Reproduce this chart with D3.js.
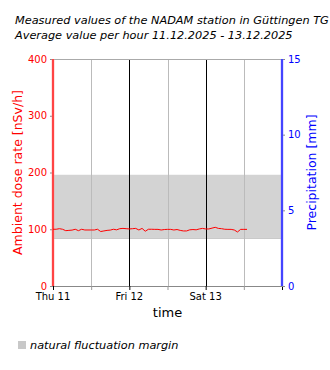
<!DOCTYPE html>
<html><head><meta charset="utf-8">
<script src="https://cdn.jsdelivr.net/npm/d3@7"></script>
<style>body{margin:0;background:#fff}svg{display:block;font-family:"DejaVu Sans",sans-serif}</style>
</head><body><div id="c"></div>
<script>
const titleLines = ["Measured values of the NADAM station in Güttingen TG", "Average value per hour 11.12.2025 - 13.12.2025"];
const startTime = new Date(2025, 11, 11, 0, 0);
const endTime = new Date(2025, 11, 14, 0, 0);
const doseValues = [100,100,101,100,97.5,98,98.5,100,97.5,100,98.7,98.7,98.7,98.7,100,96,97,98,98.5,100,99,101,101.5,101,100.5,101,101.5,98.7,101.5,96.5,100,100,99.8,99.8,98.7,99.5,99.8,99.8,98.7,99.5,98,97,97,99,99.5,99,100.5,101.5,100.5,100.5,102,103.4,101.5,101,100,99.8,99.8,98.7,95.2,99.8,99.8,99.8];
const bandLow = 85, bandHigh = 196;
const doseTicks = [0,100,200,300,400];
const precipTicks = [0,5,10,15];
const dayLabels = ["Thu 11","Fri 12","Sat 13"];
const yLabel = "Ambient dose rate [nSv/h]";
const y2Label = "Precipitation [mm]";
const xLabel = "time";
const legendLabel = "natural fluctuation margin";

const W=330,H=370, L=53, R=282, T=59, B=286;
const svg = d3.select("#c").append("svg").attr("width",W).attr("height",H);
const x = d3.scaleTime().domain([startTime,endTime]).range([L,R]);
const y = d3.scaleLinear().domain([0,400]).range([B,T]);
const y2 = d3.scaleLinear().domain([0,15]).range([B,T]);
const data = doseValues.map((v,i)=>({t:d3.timeHour.offset(startTime,i), v}));

svg.selectAll(".title").data(titleLines).join("text")
  .attr("x",15).attr("y",(d,i)=>24+i*15).attr("font-size",11.3).attr("font-style","italic").text(d=>d);

// band
svg.append("rect").attr("x",L).attr("width",R-L).attr("y",y(bandHigh)).attr("height",y(bandLow)-y(bandHigh)).attr("fill","#d3d3d3");
svg.append("line").attr("x1",L).attr("x2",R).attr("y1",y(bandLow)+0.5).attr("y2",y(bandLow)+0.5).attr("stroke","#b8b8b8");

// grid
const halfDays = d3.timeHour.every(12).range(startTime, d3.timeHour.offset(endTime,1));
svg.selectAll(".g").data(halfDays.filter(d=>+d>+startTime && +d<+endTime)).join("line")
  .attr("x1",d=>Math.round(x(d))+0.5).attr("x2",d=>Math.round(x(d))+0.5).attr("y1",T).attr("y2",B)
  .attr("stroke",d=>d.getHours()===0?"#000":"#bbb");
svg.append("line").attr("x1",L).attr("x2",R).attr("y1",T+0.5).attr("y2",T+0.5).attr("stroke","#aaa");

// x axis
const xa = svg.append("g").attr("transform",`translate(0,${B})`)
  .call(d3.axisBottom(x).tickValues(halfDays).tickSize(4).tickFormat(""));
xa.select(".domain").attr("stroke","#888");
xa.selectAll(".tick line").attr("stroke",d=>d.getHours()===0?"#000":"#999");
svg.selectAll(".dl").data(d3.timeDay.range(startTime,endTime)).join("text")
  .attr("x",d=>x(d)).attr("y",B+14).attr("text-anchor","middle").attr("font-size",10).text((d,i)=>dayLabels[i]);
svg.append("text").attr("x",(L+R)/2).attr("y",B+31).attr("text-anchor","middle").attr("font-size",13).text(xLabel);

// left axis
const ya = svg.append("g").attr("transform",`translate(${L},0)`)
  .call(d3.axisLeft(y).tickValues(doseTicks).tickSize(3));
ya.select(".domain").remove();
ya.selectAll(".tick line").attr("stroke","#888");
ya.selectAll("text").attr("fill","red").attr("font-size",10).attr("font-family","DejaVu Sans");
svg.append("line").attr("x1",L).attr("x2",L).attr("y1",T).attr("y2",B).attr("stroke","#f88").attr("stroke-width",2.5);
svg.append("line").attr("x1",L).attr("x2",L).attr("y1",T).attr("y2",B).attr("stroke","red").attr("stroke-width",1);
svg.append("text").attr("transform",`translate(22,${(T+B)/2}) rotate(-90)`).attr("text-anchor","middle")
  .attr("fill","red").attr("font-size",12.5).text(yLabel);

// right axis
const y2a = svg.append("g").attr("transform",`translate(${R},0)`)
  .call(d3.axisRight(y2).tickValues(precipTicks).tickSize(3));
y2a.select(".domain").remove();
y2a.selectAll(".tick line").attr("stroke","#888");
y2a.selectAll("text").attr("fill","blue").attr("font-size",10).attr("font-family","DejaVu Sans");
svg.append("line").attr("x1",R).attr("x2",R).attr("y1",T).attr("y2",B).attr("stroke","#88f").attr("stroke-width",2.5);
svg.append("line").attr("x1",R).attr("x2",R).attr("y1",T).attr("y2",B).attr("stroke","blue").attr("stroke-width",1);
svg.append("text").attr("transform",`translate(316,${(T+B)/2}) rotate(-90)`).attr("text-anchor","middle")
  .attr("fill","blue").attr("font-size",12.5).text(y2Label);

// line
svg.append("path").datum(data).attr("fill","none").attr("stroke","red").attr("stroke-width",1)
  .attr("d",d3.line().x(d=>x(d.t)).y(d=>y(d.v)));

// legend
svg.append("rect").attr("x",18).attr("y",341).attr("width",8).attr("height",8).attr("fill","#c8c8c8");
svg.append("text").attr("x",30).attr("y",349).attr("font-size",11.3).attr("font-style","italic").text(legendLabel);
</script></body></html>
